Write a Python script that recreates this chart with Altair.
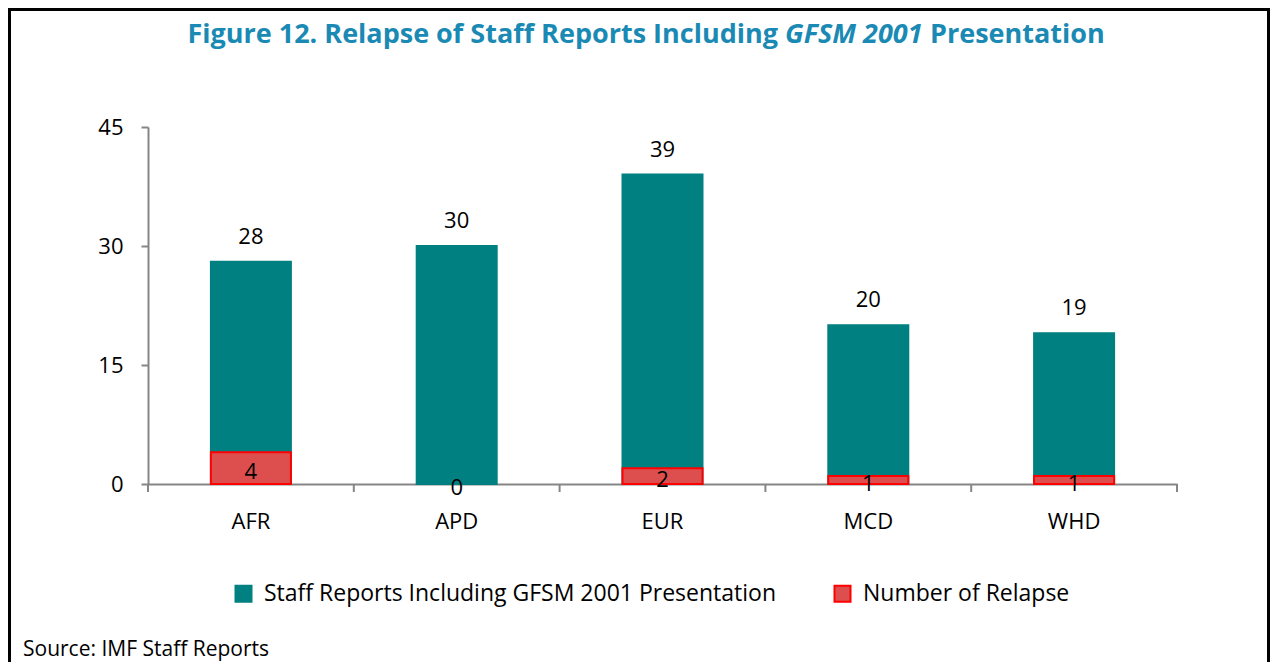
import altair as alt
import pandas as pd

regions = ["AFR", "APD", "EUR", "MCD", "WHD"]
staff_reports = [28, 30, 39, 20, 19]
relapse = [4, 0, 2, 1, 1]
y_ticks = [0, 15, 30, 45]

S1 = "Staff Reports Including GFSM 2001 Presentation"
S2 = "Number of Relapse"
series = [S1, S2]

rows = []
for r, v in zip(regions, staff_reports):
    rows.append({"region": r, "series": S1, "value": v})
for r, v in zip(regions, relapse):
    rows.append({"region": r, "series": S2, "value": v})
df = pd.DataFrame(rows)

W, H = 1029, 357
FONT = "Open Sans"
TEAL = "#008080"
RED_FILL = "#DD4F4F"
RED_LINE = "#FF0000"
AXIS_GRAY = "#868686"

x_enc = alt.X(
    "region:N", sort=regions,
    scale=alt.Scale(paddingInner=0, paddingOuter=0),
    axis=alt.Axis(title=None, labelAngle=0, ticks=False, domainColor=AXIS_GRAY,
                  domainWidth=2, labelFontSize=22, labelColor="black",
                  labelPadding=27, labelFont=FONT),
)
y_enc_scale = alt.Scale(domain=[0, 45], nice=False)
y_axis = alt.Axis(title=None, values=y_ticks, grid=False, domainColor=AXIS_GRAY,
                  domainWidth=2, tickColor=AXIS_GRAY, tickWidth=2, tickSize=7,
                  labelFontSize=22, labelColor="black", labelPadding=18, labelFont=FONT)

leg = alt.Legend(title=None, orient="none", legendX=84, legendY=455, direction="horizontal",
                 symbolType="square", symbolSize=256, symbolStrokeWidth=2,
                 labelFontSize=23, labelFont=FONT, labelColor="black", labelOffset=9,
                 labelLimit=0, columnPadding=54, padding=0)
color_enc = alt.Color("series:N", scale=alt.Scale(domain=series, range=[TEAL, RED_FILL]), legend=leg)
stroke_enc = alt.Stroke("series:N", scale=alt.Scale(domain=series, range=[TEAL, RED_LINE]), legend=leg)

base = alt.Chart(df)

teal_bars = base.transform_filter(alt.datum.series == S1).mark_bar(size=80, strokeWidth=2).encode(
    x=x_enc,
    y=alt.Y("value:Q", scale=y_enc_scale, axis=y_axis, stack=None),
    color=color_enc, stroke=stroke_enc,
)
red_bars = base.transform_filter((alt.datum.series == S2) & (alt.datum.value > 0)).mark_bar(
    size=80, strokeWidth=2).encode(
    x=alt.X("region:N", sort=regions),
    y=alt.Y("value:Q", stack=None),
    color=color_enc, stroke=stroke_enc,
)
teal_labels = base.transform_filter(alt.datum.series == S1).mark_text(
    dy=-25, fontSize=22, font=FONT, color="black", baseline="middle").encode(
    x=alt.X("region:N", sort=regions), y="value:Q", text="value:Q")
red_labels = base.transform_filter(alt.datum.series == S2).transform_calculate(
    mid="datum.value / 2").mark_text(
    dy=4, fontSize=22, font=FONT, color="black", baseline="middle").encode(
    x=alt.X("region:N", sort=regions), y="mid:Q", text="value:Q")

tick_df = pd.DataFrame({"region": regions})
x_ticks = alt.Chart(tick_df).mark_rule(color=AXIS_GRAY, strokeWidth=2).encode(
    x=alt.X("region:N", sort=regions, bandPosition=0),
    y=alt.value(H), y2=alt.value(H + 8))
end_tick = alt.Chart(pd.DataFrame({"a": [0]})).mark_rule(color=AXIS_GRAY, strokeWidth=2).encode(
    x=alt.value(W), y=alt.value(H), y2=alt.value(H + 8))

one = pd.DataFrame({"a": [0]})
border = alt.Chart(one).mark_rect(fill="transparent", stroke="black", strokeWidth=3).encode(
    x=alt.value(-138.5), x2=alt.value(1120.5), y=alt.value(-117.5), y2=alt.value(700))

TITLE_COLOR = "#1A8AB4"
TY = -92
t1 = alt.Chart(one).mark_text(text="Figure 12. Relapse of Staff Reports Including", font=FONT,
                              fontSize=27, fontWeight="bold", color=TITLE_COLOR,
                              align="right", baseline="middle").encode(x=alt.value(630), y=alt.value(TY))
t2 = alt.Chart(one).mark_text(text="GFSM 2001", font=FONT, fontSize=27, fontWeight="bold",
                              fontStyle="italic", color=TITLE_COLOR,
                              align="left", baseline="middle").encode(x=alt.value(637), y=alt.value(TY))
t3 = alt.Chart(one).mark_text(text="Presentation", font=FONT, fontSize=27, fontWeight="bold",
                              color=TITLE_COLOR, align="left",
                              baseline="middle").encode(x=alt.value(782), y=alt.value(TY))
source = alt.Chart(one).mark_text(text="Source: IMF Staff Reports", font=FONT, fontSize=21,
                                  color="black", align="left", baseline="middle").encode(
    x=alt.value(-125), y=alt.value(523))

chart = alt.layer(
    border, teal_bars, red_bars, teal_labels, red_labels, x_ticks, end_tick, t1, t2, t3, source
).properties(
    width=W, height=H,
    autosize=alt.AutoSizeParams(type="none"),
    padding={"left": 140, "top": 119, "right": 93, "bottom": 178},
).configure(font=FONT, background="white").configure_view(stroke="transparent", strokeWidth=0)

chart.save("out.html", embed_options={"renderer": "svg", "actions": False})
